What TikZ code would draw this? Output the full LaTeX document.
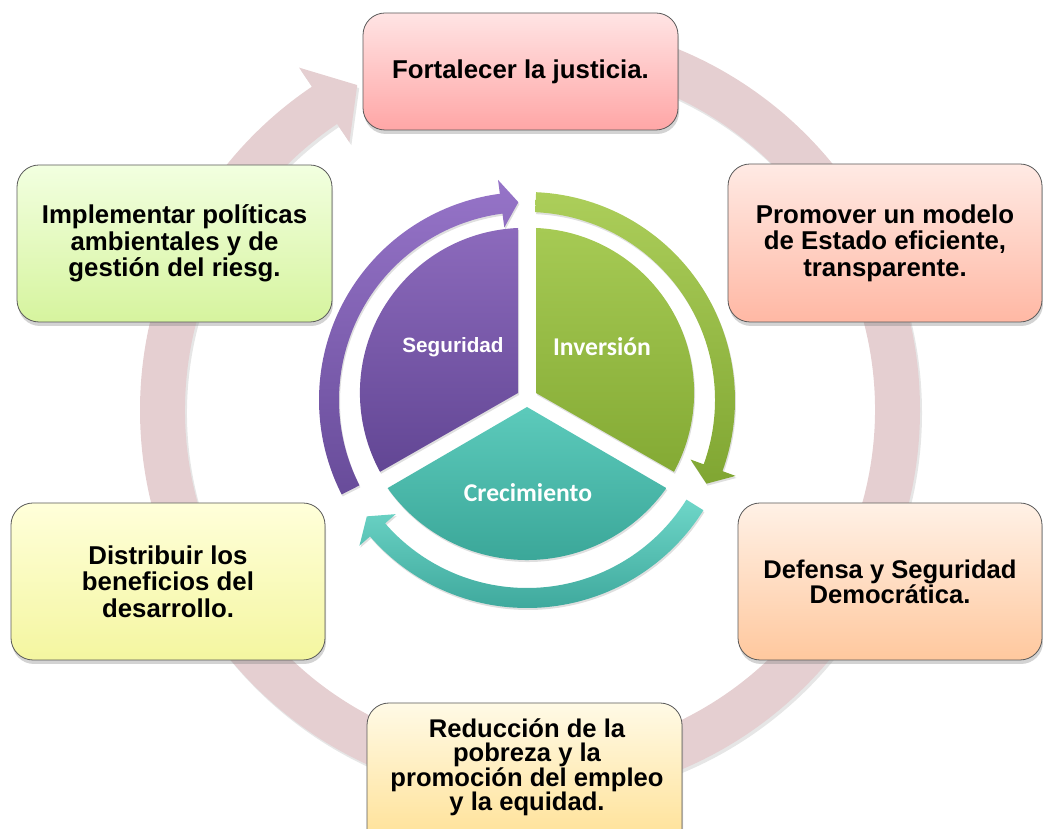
\documentclass[tikz,border=0pt]{standalone}
\usepackage{fontspec}
\setmainfont{Liberation Sans}
\newfontfamily\calib{Carlito}
\usetikzlibrary{shadows,calc}
\definecolor{ringc}{RGB}{229,207,209}
\newcommand\boxfont{\fontsize{25.8}{26.5}\selectfont\bfseries}
\newcommand\cyclearrow[7]{%
  \path[#1] ([shift={(#5:{#2+#3})}]AC) arc[start angle=#5, end angle=#6, radius={#2+#3}]
    -- ([shift={(#6:{#2+#4})}]AC) -- ([shift={(#7:#2)}]AC) -- ([shift={(#6:{#2-#4})}]AC)
    -- ([shift={(#6:{#2-#3})}]AC) arc[start angle=#6, end angle=#5, radius={#2-#3}] -- cycle;}
\begin{document}
\begin{tikzpicture}[x=1pt,y=1pt,
  box/.style={draw=black!65, line width=0.8pt, rounded corners=22pt,
    drop shadow={shadow xshift=1pt, shadow yshift=-4pt, opacity=0.35},
    font=\boxfont, align=center, inner sep=0pt},
  piece/.style={drop shadow={shadow xshift=1pt, shadow yshift=-2pt, opacity=0.25}},
  lbl/.style={text=white, font=\calib\fontsize{25.6}{28}\selectfont\bfseries}]
\useasboundingbox (0,0) rectangle (1043,829);
% big ring arrow
\coordinate (RC) at (530,419);
\fill[ringc, drop shadow={shadow xshift=2pt, shadow yshift=-3pt, opacity=0.2}]
  ([shift={(90:390)}]RC) arc[start angle=90, end angle=-236, radius=390]
  -- ([shift={(124:413)}]RC) -- ([shift={(118:368)}]RC) -- ([shift={(124:323)}]RC)
  -- ([shift={(124:345)}]RC) arc[start angle=124, end angle=450, radius=345] -- cycle;
% boxes
\node[box, minimum width=315pt, minimum height=117pt, top color={rgb,255:red,255;green,228;blue,228}, bottom color={rgb,255:red,255;green,166;blue,166}] (b1) at (520.5,757.5) {Fortalecer la justicia.};
\node[box, minimum width=315pt, minimum height=157pt, top color={rgb,255:red,242;green,255;blue,224}, bottom color={rgb,255:red,214;green,244;blue,158}] (b2) at (174.5,585.5) {Implementar políticas\\ambientales y de\\gestión del riesg.};
\node[box, minimum width=314pt, minimum height=158pt, top color={rgb,255:red,255;green,234;blue,228}, bottom color={rgb,255:red,255;green,184;blue,164}] (b3) at (885,586) {Promover un modelo\\de Estado eficiente,\\transparente.};
\node[box, minimum width=314pt, minimum height=157pt, top color={rgb,255:red,255;green,255;blue,218}, bottom color={rgb,255:red,244;green,246;blue,160}] (b4) at (168,247.5) {Distribuir los\\beneficios del\\desarrollo.};
\node[box, minimum width=304pt, minimum height=157pt, top color={rgb,255:red,255;green,241;blue,230}, bottom color={rgb,255:red,255;green,200;blue,158}, font=\fontsize{25.6}{22}\selectfont\bfseries] (b5) at (890,247.5) {Defensa y Seguridad\\Democrática.};
\node[box, minimum width=315pt, minimum height=157pt, top color={rgb,255:red,255;green,250;blue,230}, bottom color={rgb,255:red,255;green,222;blue,140}] (b6) at (524.5,47.5) {};
\node[font=\fontsize{25.6}{24}\selectfont\bfseries, align=center] (t6) at (527,62) {Reducción de la\\pobreza y la\\promoción del empleo\\y la equidad.};
% inner wheel
\path[piece, top color={rgb,255:red,140;green,106;blue,188}, bottom color={rgb,255:red,98;green,70;blue,148}]
  (518,436) -- (518,601) arc[start angle=92.4, end angle=208.6, radius=165] -- cycle;
\path[piece, top color={rgb,255:red,166;green,202;blue,84}, bottom color={rgb,255:red,132;green,170;blue,52}]
  (536,436) -- (536,601) arc[start angle=87.6, end angle=-28.6, radius=165] -- cycle;
\path[piece, top color={rgb,255:red,92;green,202;blue,187}, bottom color={rgb,255:red,58;green,166;blue,152}]
  (527,422) -- (387.6,340.9) arc[start angle=215.4, end angle=324.6, radius=171] -- cycle;
\node[text=white, font=\fontsize{20.7}{24}\selectfont\bfseries] (s1) at (453,482) {Seguridad};
\node[lbl] (s2) at (602,482) {Inversión};
\node[lbl] (s3) at (528,336) {Crecimiento};
% inner arrows
\coordinate (AC) at (527,429);
\cyclearrow{piece, top color={rgb,255:red,150;green,116;blue,200}, bottom color={rgb,255:red,104;green,76;blue,154}}{198}{10}{24}{207}{97.5}{92.5}
\cyclearrow{piece, top color={rgb,255:red,172;green,206;blue,90}, bottom color={rgb,255:red,128;green,166;blue,50}}{198}{10}{24}{87.5}{-20}{-25}
\cyclearrow{piece, top color={rgb,255:red,110;green,214;blue,200}, bottom color={rgb,255:red,62;green,168;blue,156}}{198}{10}{24}{-32}{-139}{-144}
\end{tikzpicture}
\end{document}
